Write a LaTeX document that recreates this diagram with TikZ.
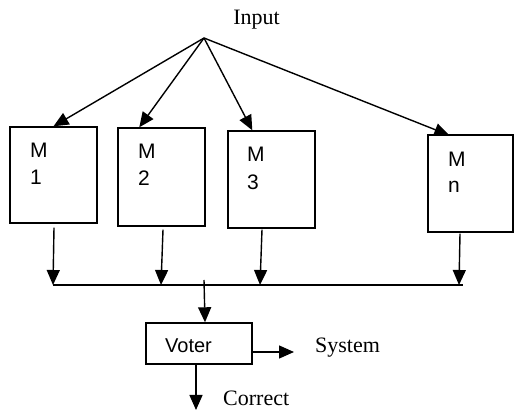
\documentclass[tikz,border=0pt]{standalone}
\usepackage{fontspec}
\setmainfont{Liberation Serif}
\newfontfamily\arialf{Liberation Sans}
\usetikzlibrary{arrows.meta}
\begin{document}
\begin{tikzpicture}[x=1pt,y=-1pt,
  box/.style={draw,line width=1.4pt,minimum width=87pt,inner sep=0pt},
  lbl/.style={anchor=base west,inner sep=0pt,font=\arialf\fontsize{21}{25}\selectfont},
  serif/.style={inner sep=0pt,font=\fontsize{22}{26}\selectfont},
  arr/.style={line width=1.4pt,-{Triangle[length=15pt,width=13pt]}},
  ln/.style={line width=1.4pt}]
\useasboundingbox (0,0) rectangle (514,411);
% input
\node[serif,anchor=base] (input) at (256.5,25) {Input};
\coordinate (apex) at (204,38);
% modules
\node[box,minimum height=96pt] (m1) at (53.5,175) {};
\node[box,minimum height=98pt] (m2) at (161.5,177) {};
\node[box,minimum height=97pt] (m3) at (271.5,179.5) {};
\node[box,minimum width=85pt,minimum height=97pt] (mn) at (470.5,183.5) {};
\node[lbl] (m1a) at (30,158) {M};
\node[lbl] (m1b) at (30,185) {1};
\node[lbl] (m2a) at (138,159) {M};
\node[lbl] (m2b) at (138,186) {2};
\node[lbl] (m3a) at (247,162) {M};
\node[lbl] (m3b) at (247,190) {3};
\node[lbl] (mna) at (448,167) {M};
\node[lbl] (mnb) at (448,193) {n};
% input arrows
\draw[arr] (apex) -- (m1.north);
\draw[arr] (apex) -- ([xshift=22pt]m2.north west);
\draw[arr] (apex) -- ([xshift=25pt]m3.north west);
\draw[arr] (apex) -- ([xshift=22pt,yshift=-1pt]mn.north west);
% bus
\coordinate (b1) at (53,285);
\coordinate (b2) at (161,285);
\coordinate (b3) at (260,285);
\coordinate (bn) at (459,285);
\coordinate (bR) at (463,285);
\draw[ln] (b1) -- (bR);
\draw[arr] ([xshift=0.5pt,yshift=-4pt]m1.south) -- (b1);
\draw[arr] ([xshift=1.5pt,yshift=-3pt]m2.south) -- (b2);
\draw[arr] ([xshift=-9.5pt,yshift=-1pt]m3.south) -- (b3);
\draw[arr] ([xshift=-10.5pt,yshift=-1pt]mn.south) -- (bn);
% voter
\node[box,minimum width=106pt,minimum height=41pt] (voter) at (199,343.5) {};
\node[lbl,font=\arialf\fontsize{20}{24}\selectfont] (vt) at (165,353) {Voter};
\coordinate (tap) at (204,280);
\draw[arr] (tap) -- ([xshift=6pt]voter.north);
\coordinate (sysend) at (294,352);
\draw[arr] (voter.east |- sysend) -- (sysend);
\node[serif,anchor=base west] (system) at (315,353) {System};
\coordinate (corend) at (196,410);
\draw[arr] (voter.south -| corend) -- (corend);
\node[serif,anchor=base west] (correct) at (223,406) {Correct};
\end{tikzpicture}
\end{document}
